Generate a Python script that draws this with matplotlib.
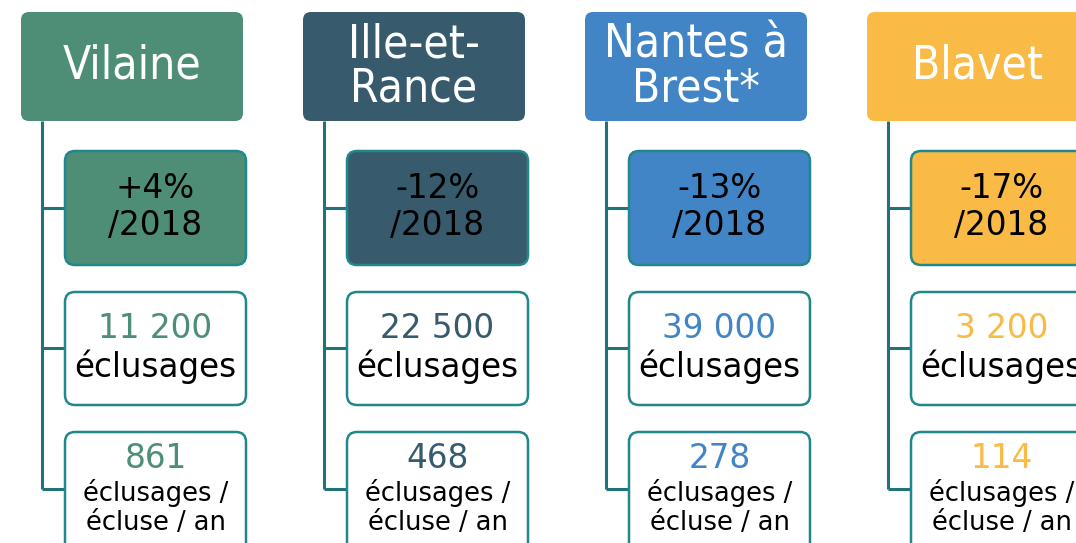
import matplotlib
matplotlib.use("Agg")
import matplotlib.pyplot as plt
from matplotlib.patches import FancyBboxPatch

# Data
names = [["Vilaine"], ["Ille-et-", "Rance"], ["Nantes à", "Brest*"], ["Blavet"]]
evolution = ["+4%", "-12%", "-13%", "-17%"]
ref_year = "/2018"
totals = ["11 200", "22 500", "39 000", "3 200"]
per_lock = ["861", "468", "278", "114"]
colors = ["#4E8E77", "#375B6C", "#4285C6", "#F9BB45"]

W, H = 1076, 543
fig = plt.figure(figsize=(W / 100, H / 100), dpi=100)
ax = fig.add_axes([0, 0, 1, 1])
ax.set_xlim(0, W)
ax.set_ylim(H, 0)
ax.axis("off")

HFONT = dict(family="DejaVu Sans", fontstretch="condensed")
BFONT = dict(family="DejaVu Sans")
line_col = "#22727A"
border_col = "#22878C"
col_step = 282
x0 = 21

for i in range(len(names)):
    xl = x0 + i * col_step
    c = colors[i]
    # header
    ax.add_patch(FancyBboxPatch((xl + 6, 12 + 6), 222 - 12, 109 - 12,
                                boxstyle="round,pad=6,rounding_size=8",
                                fc=c, ec="none", zorder=2))
    hx = xl + 111
    if len(names[i]) == 1:
        ax.text(hx, 66, names[i][0], color="white", fontsize=33, ha="center", va="center", **HFONT)
    else:
        ax.text(hx, 45, names[i][0], color="white", fontsize=33, ha="center", va="center", **HFONT)
        ax.text(hx, 89, names[i][1], color="white", fontsize=33, ha="center", va="center", **HFONT)
    # connector
    vx = xl + 21
    ax.plot([vx, vx], [121, 489], color=line_col, lw=2.2, zorder=1, solid_capstyle="butt")
    for yc in (208, 348, 489):
        ax.plot([vx, xl + 44], [yc, yc], color=line_col, lw=2.2, zorder=1, solid_capstyle="butt")
    # child boxes
    bx = xl + 44
    bw = 181
    boxes = [(151, 114, c), (292, 113, "white"), (432, 125, "white")]
    for (by, bh, fc) in boxes:
        ax.add_patch(FancyBboxPatch((bx + 10, by + 10), bw - 20, bh - 20,
                                    boxstyle="round,pad=10,rounding_size=10",
                                    fc=fc, ec=border_col, lw=1.8, zorder=3))
    cx = bx + bw / 2
    ax.text(cx, 189, evolution[i], color="black", fontsize=23.5, ha="center", va="center", zorder=4, **BFONT)
    ax.text(cx, 226, ref_year, color="black", fontsize=23.5, ha="center", va="center", zorder=4, **BFONT)
    ax.text(cx, 329, totals[i], color=c, fontsize=23.5, ha="center", va="center", zorder=4, **BFONT)
    ax.text(cx, 367, "éclusages", color="black", fontsize=23.5, ha="center", va="center", zorder=4, **BFONT)
    ax.text(cx, 459, per_lock[i], color=c, fontsize=23.5, ha="center", va="center", zorder=4, **BFONT)
    ax.text(cx, 493, "éclusages /", color="black", fontsize=18.5, ha="center", va="center", zorder=4, **BFONT)
    ax.text(cx, 523, "écluse / an", color="black", fontsize=18.5, ha="center", va="center", zorder=4, **BFONT)

fig.savefig("out.png", dpi=100, facecolor="white")
